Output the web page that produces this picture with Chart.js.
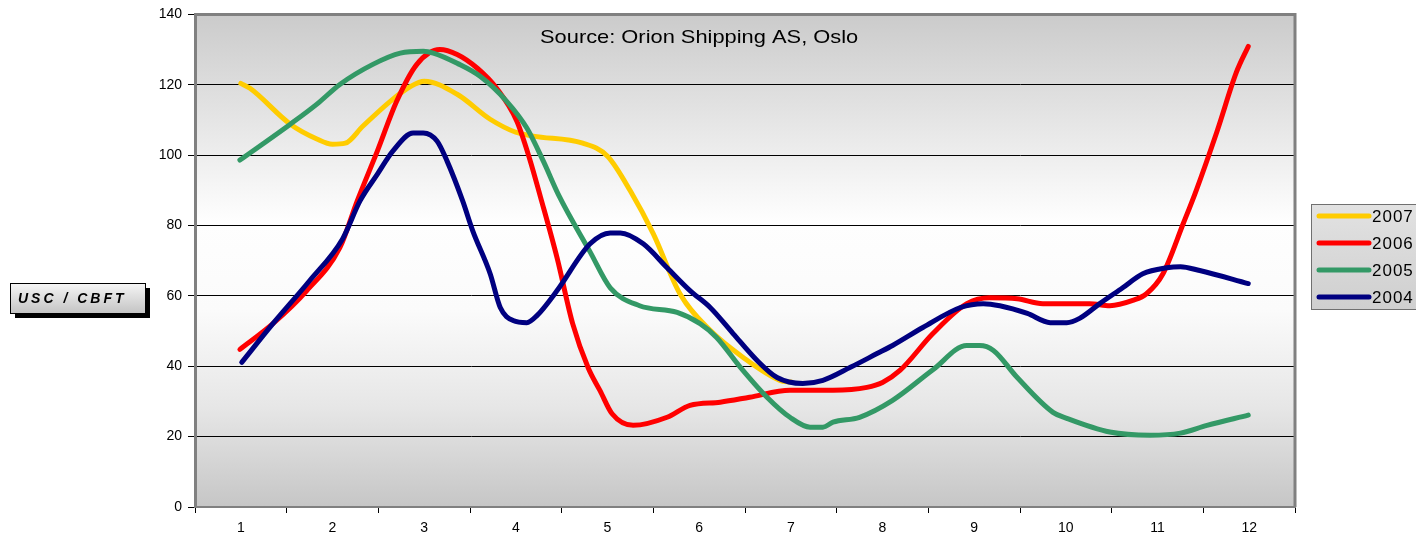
<!DOCTYPE html>
<html>
<head>
<meta charset="utf-8">
<script src="https://cdn.jsdelivr.net/npm/chart.js@4/dist/chart.umd.min.js"></script>
<style>
  html, body { margin: 0; padding: 0; background: #fff; }
  #wrap { position: relative; width: 1416px; height: 541px; }
</style>
</head>
<body>
<div id="wrap"><canvas id="myChart"></canvas></div>
<script>
// month labels on the x axis
const months = ["1", "2", "3", "4", "5", "6", "7", "8", "9", "10", "11", "12"];
const yTicks = [0, 20, 40, 60, 80, 100, 120, 140];
const seriesNames = ["2007", "2006", "2005", "2004"];
const seriesColors = ["#ffcc00", "#ff0000", "#339966", "#000080"];
const titleText = "Source: Orion Shipping AS, Oslo";
const unitText = "USC / CBFT";

// positions along the year (1 = month 1) and values
const x2007 = [1.0, 1.1, 1.54, 1.83, 2.0, 2.14, 2.33, 2.63, 2.85, 3.0, 3.36, 3.72, 4.0, 4.19, 4.73, 5.0, 5.25, 5.5, 5.79, 6.12, 6.48, 6.88, 7.0];
const y2007 = [120.4, 119, 108.8, 104.6, 103.1, 103.4, 108.2, 115.3, 119.5, 121, 117.3, 110.2, 106.5, 105.4, 103.4, 99.7, 89.8, 77.6, 60.6, 50.2, 42.5, 36.0, 35.5];

const x2006 = [0.99, 1.35, 1.72, 2.08, 2.27, 2.49, 2.7, 2.92, 3.17, 3.36, 3.58, 3.79, 4.01, 4.15, 4.27, 4.45, 4.62, 4.79, 4.92, 5.05, 5.28, 5.65, 5.9, 6.23, 6.55, 6.99, 7.46, 7.83, 8.0, 8.19, 8.55, 8.92, 9.17, 9.47, 9.75, 10.26, 10.48, 10.73, 10.88, 11.06, 11.28, 11.42, 11.65, 11.86, 11.99];
const y2006 = [44.8, 52.1, 61.5, 73.7, 87, 101.2, 115.3, 125.8, 130, 128.6, 124.7, 119, 109.7, 99, 88, 70.8, 52.1, 39.5, 33, 26.5, 23.2, 25.5, 28.9, 29.8, 31.2, 33.2, 33.2, 34, 35.4, 38.8, 49.3, 57.8, 59.5, 59.2, 57.8, 57.8, 57.2, 58.7, 60.6, 66.3, 80.5, 89.8, 106.8, 123.5, 130.9];

const x2005 = [0.99, 1.54, 1.83, 2.08, 2.44, 2.74, 2.99, 3.1, 3.36, 3.61, 3.9, 4.12, 4.3, 4.47, 4.81, 5.03, 5.35, 5.76, 6.01, 6.19, 6.45, 6.74, 6.99, 7.21, 7.35, 7.46, 7.75, 8.11, 8.55, 8.92, 9.06, 9.21, 9.47, 9.86, 10.01, 10.48, 10.92, 11.25, 11.54, 11.99];
const y2005 = [98.6, 108.8, 114.5, 120.1, 125.8, 129, 129.5, 129, 126.1, 122.4, 115.3, 107.7, 98.3, 88.5, 72.5, 62.3, 57.2, 55.3, 52.1, 48.2, 39.7, 31.2, 25.5, 22.7, 22.7, 24.1, 25.5, 30.3, 39, 45.9, 45.9, 44.5, 36.8, 26.9, 25.2, 21.3, 20.4, 21, 23.2, 26.1];

const x2004 = [1.01, 1.35, 1.75, 2.11, 2.3, 2.49, 2.66, 2.88, 2.99, 3.14, 3.25, 3.42, 3.53, 3.72, 3.83, 3.97, 4.12, 4.23, 4.45, 4.81, 5.03, 5.14, 5.39, 5.65, 5.9, 6.12, 6.37, 6.63, 6.85, 7.13, 7.35, 7.65, 7.94, 8.11, 8.44, 8.85, 9.1, 9.28, 9.58, 9.83, 10.01, 10.15, 10.37, 10.62, 10.84, 11.1, 11.25, 11.46, 11.99];
const y2004 = [41.1, 52.1, 64.3, 76.2, 87, 94.6, 101.2, 106.3, 106.3, 104, 98.3, 87, 78.5, 66.3, 56.7, 53, 52.4, 54.4, 61.5, 74.8, 77.9, 77.9, 74.8, 68, 61.5, 56.7, 49.3, 41.7, 36.8, 35.1, 36, 39.7, 43.6, 45.9, 51, 56.7, 57.8, 57.2, 55, 52.4, 52.4, 53.6, 57.8, 62.3, 66.3, 68, 68.3, 67.2, 63.5];

const seriesX = [x2007, x2006, x2005, x2004];
const seriesY = [y2007, y2006, y2005, y2004];

const FONT = "'Liberation Sans', Arial, sans-serif";

function toPoints(xs, ys) {
  return xs.map((x, i) => ({ x: x, y: ys[i] }));
}

const datasets = seriesNames.map((name, i) => ({
  label: name,
  data: toPoints(seriesX[i], seriesY[i]),
  borderColor: seriesColors[i],
  backgroundColor: seriesColors[i],
  borderWidth: 5,
  borderCapStyle: "round",
  borderJoinStyle: "round",
  pointRadius: 0,
  cubicInterpolationMode: "monotone",
  order: seriesNames.length - i
}));

// grey gradient behind the plot
const plotBackground = {
  id: "plotBackground",
  beforeDraw(chart) {
    const { ctx, chartArea: a } = chart;
    const g = ctx.createLinearGradient(0, a.top, 0, a.bottom);
    g.addColorStop(0, "#cbcbcb");
    g.addColorStop(0.42, "#fefefe");
    g.addColorStop(0.6, "#fbfbfb");
    g.addColorStop(0.8, "#e6e6e6");
    g.addColorStop(1, "#c6c6c6");
    ctx.save();
    ctx.fillStyle = g;
    ctx.fillRect(a.left, a.top, a.right - a.left, a.bottom - a.top);
    ctx.restore();
  }
};

const decorations = {
  id: "decorations",
  afterDraw(chart) {
    const { ctx, chartArea: a } = chart;
    ctx.save();

    // frame on top and right
    ctx.strokeStyle = "#808080";
    ctx.lineWidth = 3;
    ctx.beginPath();
    ctx.moveTo(a.left, a.top);
    ctx.lineTo(a.right, a.top);
    ctx.lineTo(a.right, a.bottom);
    ctx.stroke();

    // source text (the original is stretched a bit sideways)
    ctx.fillStyle = "#000";
    ctx.font = "19px " + FONT;
    ctx.textBaseline = "middle";
    ctx.textAlign = "left";
    ctx.save();
    ctx.translate(540, 38);
    ctx.scale(1.15, 1);
    ctx.fillText(titleText, 0, 0);
    ctx.restore();

    // unit box with shadow
    const bx = 10, by = 283, bw = 135, bh = 30;
    ctx.fillStyle = "#000";
    ctx.fillRect(bx + 5, by + 5, bw, bh);
    const bg = ctx.createLinearGradient(0, by, 0, by + bh);
    bg.addColorStop(0, "#f6f6f6");
    bg.addColorStop(1, "#c4c4c4");
    ctx.fillStyle = bg;
    ctx.fillRect(bx, by, bw, bh);
    ctx.lineWidth = 1;
    ctx.strokeStyle = "#000";
    ctx.strokeRect(bx + 0.5, by + 0.5, bw, bh);
    ctx.fillStyle = "#000";
    ctx.font = "italic bold 14px " + FONT;
    ctx.letterSpacing = "3px";
    ctx.fillText(unitText, 18, by + bh / 2 + 1);
    ctx.letterSpacing = "0px";

    // legend
    const lx = 1311, ly = 204, lw = 110, lh = 105;
    const lg = ctx.createLinearGradient(0, ly, 0, ly + lh);
    lg.addColorStop(0, "#e2e2e2");
    lg.addColorStop(1, "#cfcfcf");
    ctx.fillStyle = lg;
    ctx.fillRect(lx, ly, lw, lh);
    ctx.strokeStyle = "#707070";
    ctx.strokeRect(lx + 0.5, ly + 0.5, lw, lh);
    ctx.font = "17px " + FONT;
    ctx.letterSpacing = "1px";
    chart.data.datasets.forEach((ds, i) => {
      const yy = 216 + i * 27;
      ctx.strokeStyle = ds.borderColor;
      ctx.lineWidth = 5;
      ctx.lineCap = "round";
      ctx.beginPath();
      ctx.moveTo(1319, yy);
      ctx.lineTo(1369, yy);
      ctx.stroke();
      ctx.fillStyle = "#000";
      ctx.fillText(ds.label, 1372, yy + 1);
    });
    ctx.restore();
  }
};

const ctx = document.getElementById("myChart").getContext("2d");
const chart = new Chart(ctx, {
  type: "line",
  data: { datasets: datasets },
  plugins: [plotBackground, decorations],
  options: {
    responsive: true,
    maintainAspectRatio: false,
    animation: false,
    layout: { padding: { left: 150, right: 121, top: 13, bottom: 0 } },
    plugins: {
      legend: { display: false },
      tooltip: { enabled: false }
    },
    scales: {
      x: {
        type: "linear",
        min: 0.5,
        max: 12.5,
        afterBuildTicks(axis) {
          const t = [];
          for (let v = 0.5; v <= 12.5; v += 0.5) t.push({ value: v });
          axis.ticks = t;
        },
        afterFit(axis) { axis.height = 34; },
        grid: {
          drawOnChartArea: false,
          tickLength: 6,
          color: c => (c.tick && Number.isInteger(c.tick.value)) ? "rgba(0,0,0,0)" : "#000"
        },
        border: { color: "#808080", width: 2 },
        ticks: {
          autoSkip: false,
          maxRotation: 0,
          padding: 7,
          color: "#000",
          font: { family: FONT, size: 14 },
          callback: v => Number.isInteger(v) ? months[v - 1] : ""
        }
      },
      y: {
        min: 0,
        max: 140,
        afterBuildTicks(axis) {
          axis.ticks = yTicks.map(v => ({ value: v }));
        },
        afterFit(axis) { axis.width = 45; },
        grid: {
          tickLength: 7,
          tickColor: "#000",
          color: c => (c.tick && (c.tick.value === 0 || c.tick.value === 140)) ? "rgba(0,0,0,0)" : "#000"
        },
        border: { color: "#808080", width: 3 },
        ticks: {
          padding: 6,
          color: "#000",
          font: { family: FONT, size: 14 }
        }
      }
    }
  }
});
</script>
</body>
</html>
